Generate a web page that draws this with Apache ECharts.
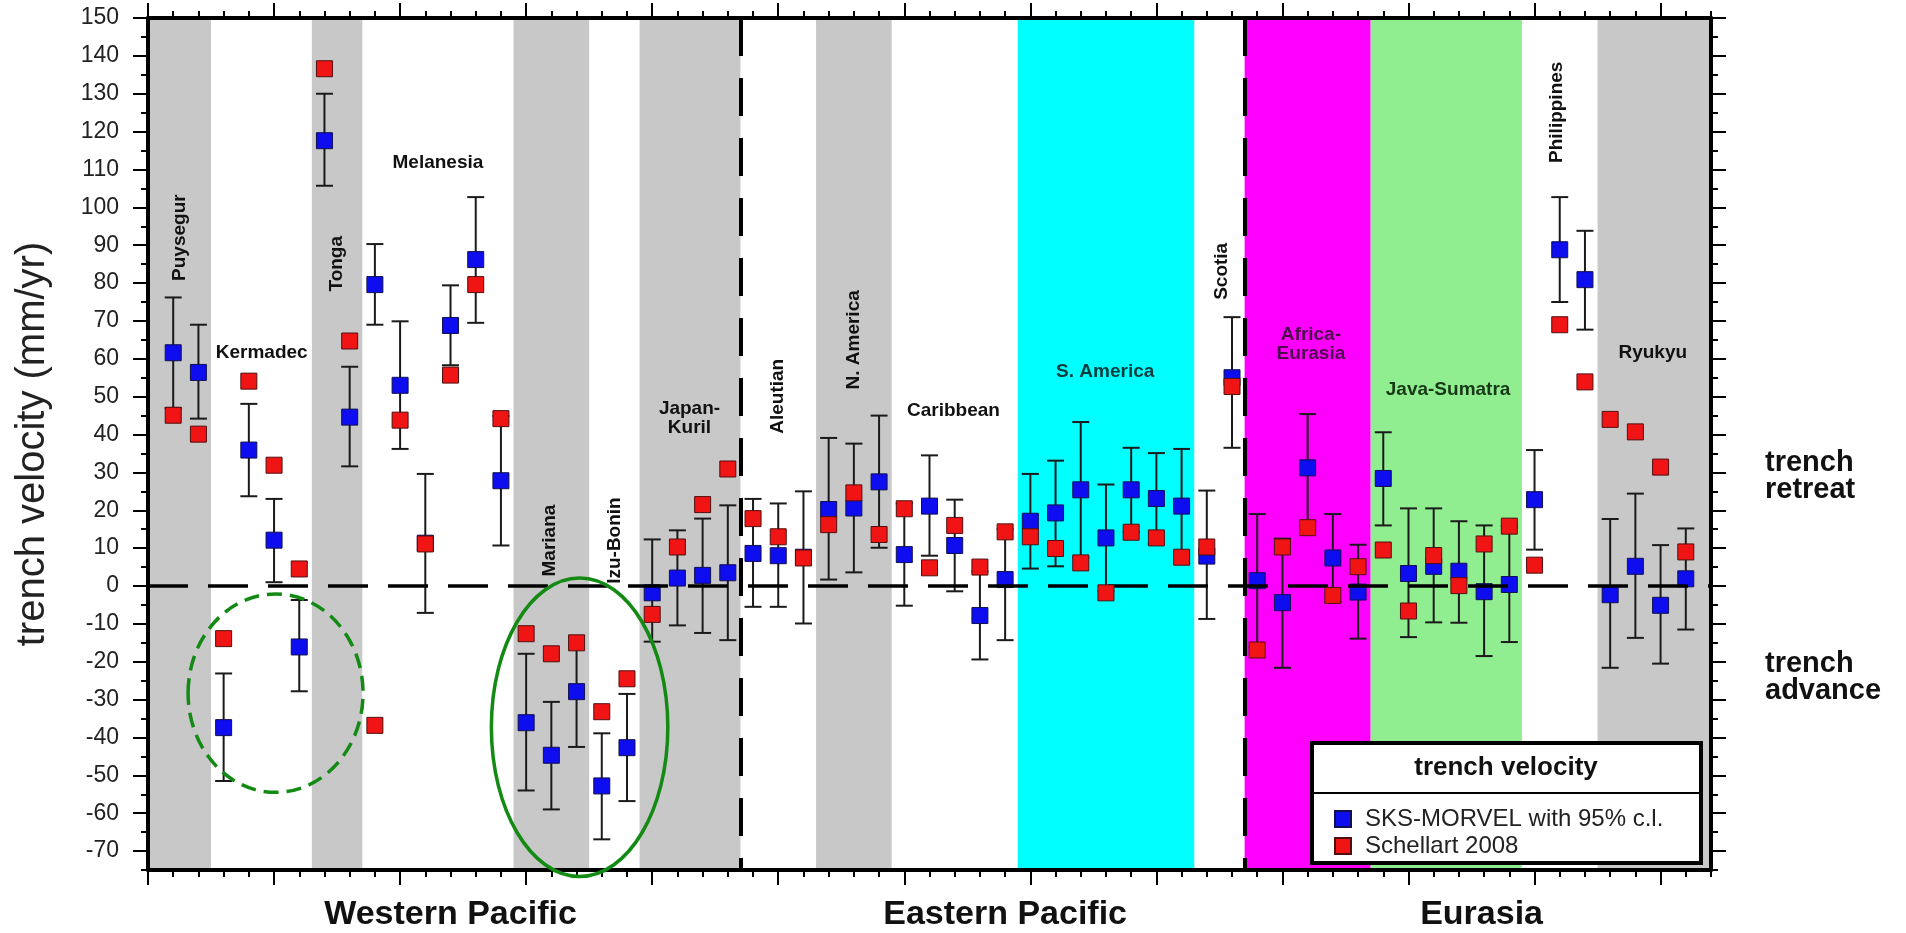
<!DOCTYPE html>
<html>
<head>
<meta charset="utf-8">
<title>Trench velocity</title>
<script src="https://cdn.jsdelivr.net/npm/echarts@6/dist/echarts.min.js"></script>
<style>
  html, body { margin: 0; padding: 0; background: #ffffff; }
  #chart { width: 1906px; height: 933px; }
</style>
</head>
<body>
<div id="chart"></div>
<script>
// ---- data: one entry per subduction-zone segment (position along the x axis) ----
const trenchIndex = [1, 2, 3, 4, 5, 6, 7, 8, 9, 10, 11, 12, 13, 14, 15, 16, 17, 18, 19, 20,
  21, 22, 23, 24, 25, 26, 27, 28, 29, 30, 31, 32, 33, 34, 35, 36, 37, 38, 39, 40,
  41, 42, 43, 44, 45, 46, 47, 48, 49, 50, 51, 52, 53, 54, 55, 56, 57, 58, 59, 60, 61];

// SKS-MORVEL trench velocity (mm/yr)
const morvelVelocity = [61.6, 56.4, -37.4, 35.9, 12.1, -16.1, 117.6, 44.6, 79.6, 53.0,
  11.3, 68.8, 86.2, 27.8, -36.1, -44.7, -27.9, -52.8, -42.7, -1.8,
  2.1, 2.8, 3.5, 8.6, 8.0, 7.6, 20.2, 20.6, 27.5, 8.3,
  21.1, 10.7, -7.8, 1.7, 17.1, 19.3, 25.4, 12.7, 25.4, 23.1,
  21.1, 7.9, 55.0, 1.4, -4.4, 31.2, 7.4, -1.6, 28.4, 3.3,
  5.2, 3.9, -1.5, 0.4, 22.8, 88.8, 80.9, -2.3, 5.2, -5.1, 1.9];

// upper / lower bounds of the 95% confidence interval
const morvelUpper = [76.2, 69.0, -23.1, 48.1, 23.0, -3.7, 130.0, 57.9, 90.3, 69.9,
  29.6, 79.4, 102.7, 44.9, -17.9, -30.6, -13.3, -38.9, -28.5, 12.3,
  14.7, 17.8, 21.3, 23.0, 21.8, 25.0, 39.1, 37.6, 45.0, 21.8,
  34.5, 22.8, 3.8, 15.0, 29.6, 33.1, 43.3, 26.8, 36.5, 35.1,
  36.2, 25.2, 71.0, 19.0, 12.5, 45.4, 19.0, 10.9, 40.6, 20.5,
  20.5, 17.1, 16.0, 15.8, 35.9, 102.7, 93.8, 17.7, 24.4, 10.8, 15.2];

const morvelLower = [47.0, 44.2, -51.5, 23.7, 1.0, -27.8, 105.7, 31.6, 69.0, 36.2,
  -7.1, 58.3, 69.5, 10.7, -54.0, -59.0, -42.5, -66.9, -56.8, -14.7,
  -10.4, -12.4, -14.3, -5.5, -5.5, -9.9, 1.7, 3.6, 10.1, -5.2,
  8.0, -1.4, -19.4, -14.3, 4.6, 5.2, 7.5, -1.4, 14.3, 11.1,
  6.0, -8.7, 36.5, -16.2, -21.6, 17.0, -4.2, -13.9, 16.0, -13.5,
  -9.6, -9.7, -18.5, -14.8, 9.6, 75.0, 67.7, -21.6, -13.7, -20.5, -11.5];

// Schellart (2008) trench velocity (mm/yr)
const schellartVelocity = [45.1, 40.1, -13.9, 54.1, 31.9, 4.5, 136.6, 64.7, -36.8, 43.8,
  11.1, 55.7, 79.6, 44.2, -12.6, -17.9, -15.0, -33.2, -24.5, -7.5,
  10.3, 21.5, 30.9, 17.8, 13.0, 7.4, 16.2, 24.6, 13.6, 20.4,
  4.8, 16.0, 5.0, 14.3, 13.0, 9.9, 6.1, -1.8, 14.2, 12.7,
  7.6, 10.3, 52.7, -16.9, 10.3, 15.4, -2.5, 5.1, 9.5, -6.6,
  8.05, 0.1, 11.1, 15.8, 5.5, 69.0, 53.9, 44.0, 40.7, 31.4, 9.0];

// y axis tick labels and intermediate ticks
const velocityTicks = [-70, -60, -50, -40, -30, -20, -10, 0, 10, 20, 30, 40, 50, 60, 70,
  80, 90, 100, 110, 120, 130, 140, 150];
const velocityMinorTicks = [-75, -65, -55, -45, -35, -25, -15, -5, 5, 15, 25, 35, 45, 55,
  65, 75, 85, 95, 105, 115, 125, 135, 145];
const segmentMajorTicks = [0, 5, 10, 15, 20, 25, 30, 35, 40, 45, 50, 55, 60];

// shaded regions along the trench index
const bandStart = [0, 6.5, 14.5, 19.5, 26.5, 34.5, 43.5, 48.5, 57.5];
const bandEnd   = [2.5, 8.5, 17.5, 23.5, 29.5, 41.5, 48.5, 54.5, 62];
const bandKind  = ['grey', 'grey', 'grey', 'grey', 'grey', 'cyan', 'magenta', 'green', 'grey'];

// region names and the plate groups below the axis
const regionNames = ['Puysegur', 'Kermadec', 'Tonga', 'Melanesia', 'Mariana', 'Izu-Bonin',
  'Japan-\nKuril', 'Aleutian', 'N. America', 'Caribbean', 'S. America', 'Scotia',
  'Africa-\nEurasia', 'Java-Sumatra', 'Philippines', 'Ryukyu'];
const groupNames = ['Western Pacific', 'Eastern Pacific', 'Eurasia'];

// ---- drawing ----
const FONT = '"Liberation Sans", Arial, Helvetica, sans-serif';
const bandColors = { grey: '#c8c8c8', cyan: '#00ffff', magenta: '#ff00ff', green: '#90ee90' };

const morvelPoints = trenchIndex.map((k, i) => [k, morvelVelocity[i]]);
const schellartPoints = trenchIndex.map((k, i) => [k, schellartVelocity[i]]);
const errorRows = trenchIndex.map((k, i) => [k, morvelUpper[i], morvelLower[i]]);

const chart = echarts.init(document.getElementById('chart'), null, { renderer: 'canvas' });

function xAxisDef(position, ticks, len, withLine) {
  const tick = { show: true, length: len, lineStyle: { color: '#000', width: 2 } };
  if (ticks) tick.customValues = ticks;
  return {
    type: 'value', position: position, min: 0, max: 62, z: 10,
    interval: ticks ? undefined : 1,
    axisLine: { show: withLine, onZero: false, lineStyle: { color: '#000', width: 4 } },
    axisTick: tick,
    axisLabel: { show: false },
    splitLine: { show: false }
  };
}

function yAxisDef(position, ticks, len, withLine, withLabels) {
  const ax = {
    type: 'value', position: position, min: -75, max: 150, z: 10,
    axisLine: { show: withLine, onZero: false, lineStyle: { color: '#000', width: 4 } },
    axisTick: { show: true, length: len, customValues: ticks, lineStyle: { color: '#000', width: 2 } },
    axisLabel: { show: false },
    splitLine: { show: false }
  };
  if (withLabels) {
    ax.axisLabel = { show: true, customValues: ticks, margin: 29, fontSize: 23,
      color: '#222', fontFamily: FONT };
    ax.name = 'trench velocity (mm/yr)';
    ax.nameLocation = 'middle';
    ax.nameRotate = 90;
    ax.nameGap = 95;
    ax.nameTextStyle = { fontSize: 40, color: '#222', fontFamily: FONT };
  }
  return ax;
}

const option = {
  animation: false,
  backgroundColor: '#ffffff',
  textStyle: { fontFamily: FONT },
  grid: { left: 148, top: 18, width: 1563, height: 852, outerBoundsMode: 'none' },
  xAxis: [
    xAxisDef('bottom', null, 7, true),
    xAxisDef('bottom', segmentMajorTicks, 15, false),
    xAxisDef('top', null, 7, true),
    xAxisDef('top', segmentMajorTicks, 15, false)
  ],
  yAxis: [
    yAxisDef('left', velocityTicks, 15, true, true),
    yAxisDef('left', velocityMinorTicks, 7, false, false),
    yAxisDef('right', velocityTicks, 15, true, false),
    yAxisDef('right', velocityMinorTicks, 7, false, false)
  ],
  legend: {
    orient: 'vertical', left: 1329, top: 802, z: 60,
    itemWidth: 16, itemHeight: 16, itemGap: 3, icon: 'rect',
    selectedMode: false,
    data: ['SKS-MORVEL with 95% c.l.', 'Schellart 2008'],
    textStyle: { fontSize: 24, color: '#222', fontFamily: FONT, lineHeight: 24, padding: [0, 0, 0, 9] }
  },
  series: [
    {
      type: 'scatter', data: [], silent: true, z: 1,
      markArea: {
        silent: true,
        data: bandStart.map((s, i) => [
          { xAxis: s, itemStyle: { color: bandColors[bandKind[i]], opacity: 1 } },
          { xAxis: bandEnd[i] }
        ])
      }
    },
    {
      type: 'scatter', data: [], silent: true, z: 2,
      markLine: {
        silent: true, symbol: 'none', label: { show: false },
        data: [
          [{ coord: [0, 0], lineStyle: { color: '#000', width: 3.5, type: [40, 20] } }, { coord: [62, 0] }],
          [{ coord: [23.5, 150], lineStyle: { color: '#000', width: 4, type: [38, 22] } }, { coord: [23.5, -75] }],
          [{ coord: [43.5, 150], lineStyle: { color: '#000', width: 4, type: [38, 22] } }, { coord: [43.5, -75] }]
        ]
      }
    },
    {
      type: 'custom', z: 3, silent: true,
      data: errorRows,
      encode: { x: 0, y: [1, 2] },
      renderItem: function (params, api) {
        const x = api.value(0);
        const hi = api.coord([x, api.value(1)]);
        const lo = api.coord([x, api.value(2)]);
        const w = 8.5;
        const style = { stroke: '#1a1a1a', lineWidth: 2 };
        return {
          type: 'group',
          children: [
            { type: 'line', shape: { x1: hi[0], y1: hi[1], x2: lo[0], y2: lo[1] }, style: style },
            { type: 'line', shape: { x1: hi[0] - w, y1: hi[1], x2: hi[0] + w, y2: hi[1] }, style: style },
            { type: 'line', shape: { x1: lo[0] - w, y1: lo[1], x2: lo[0] + w, y2: lo[1] }, style: style }
          ]
        };
      }
    },
    {
      name: 'SKS-MORVEL with 95% c.l.', type: 'scatter', z: 4,
      data: morvelPoints, symbol: 'rect', symbolSize: 16,
      itemStyle: { color: '#0d0def', borderColor: '#101050', borderWidth: 1, opacity: 1 }
    },
    {
      name: 'Schellart 2008', type: 'scatter', z: 5,
      data: schellartPoints, symbol: 'rect', symbolSize: 16,
      itemStyle: { color: '#f01414', borderColor: '#501010', borderWidth: 1, opacity: 1 }
    }
  ]
};

chart.setOption(option);

// ---- annotations placed in data space ----
const toPx = (pt) => chart.convertToPixel({ xAxisIndex: 0, yAxisIndex: 0 }, pt);

// [index position, velocity, vertical?, colour]
const regionAnchors = [
  [1.26, 92.0, true, '#111'], [4.51, 61.6, false, '#111'], [7.50, 85.1, true, '#111'],
  [11.5, 111.7, false, '#111'], [15.94, 12.0, true, '#111'], [18.52, 12.0, true, '#111'],
  [21.48, 44.2, false, '#111'], [25.0, 50.1, true, '#111'], [28.0, 65.0, true, '#111'],
  [31.95, 46.4, false, '#111'], [37.97, 56.5, false, '#0c3c3c'], [42.58, 83.1, true, '#111'],
  [46.13, 63.9, false, '#4b0a4b'], [51.57, 51.8, false, '#183818'], [55.9, 125.1, true, '#111'],
  [59.69, 61.6, false, '#111']
];

const graphics = [];

regionNames.forEach((name, i) => {
  const a = regionAnchors[i];
  const p = toPx([a[0], a[1]]);
  graphics.push({
    type: 'text', x: p[0], y: p[1], rotation: a[2] ? Math.PI / 2 : 0, z: 20, silent: true,
    style: { text: name, fill: a[3], font: 'bold 19px ' + FONT, align: 'center',
      verticalAlign: 'middle', lineHeight: 19 }
  });
});

// plate groups under the axis
[12, 34, 52.9].forEach((k, i) => {
  const p = toPx([k, -75]);
  graphics.push({
    type: 'text', x: p[0], y: p[1] + 45, z: 20, silent: true,
    style: { text: groupNames[i], fill: '#111', font: 'bold 34px ' + FONT,
      align: 'center', verticalAlign: 'middle' }
  });
});

// retreat / advance notes beside the right axis
[['trench\nretreat', 28.9], ['trench\nadvance', -24.1]].forEach((t) => {
  const p = toPx([62, t[1]]);
  graphics.push({
    type: 'text', x: p[0] + 54, y: p[1], z: 20, silent: true,
    style: { text: t[0], fill: '#111', font: 'bold 29px ' + FONT, align: 'left',
      verticalAlign: 'middle', lineHeight: 27 }
  });
});

// highlighted groups of advancing trenches
function ellipseAround(cx, cy, rx, ry, dashed) {
  const c = toPx([cx, cy]);
  const e = toPx([cx + rx, cy + ry]);
  return {
    type: 'ellipse', z: 21, silent: true,
    shape: { cx: c[0], cy: c[1], rx: Math.abs(e[0] - c[0]), ry: Math.abs(c[1] - e[1]) },
    style: { fill: null, stroke: '#138a13', lineWidth: 3.5, lineDash: dashed ? [15, 8] : null }
  };
}
graphics.push(ellipseAround(5.06, -28.3, 3.47, 26.2, true));
graphics.push(ellipseAround(17.12, -37.3, 3.50, 39.4, false));

// legend frame and title
graphics.push({
  type: 'rect', z: 50, silent: true,
  shape: { x: 1312, y: 743, width: 389, height: 120 },
  style: { fill: '#ffffff', stroke: '#000', lineWidth: 4 }
});
graphics.push({
  type: 'line', z: 51, silent: true,
  shape: { x1: 1312, y1: 793, x2: 1701, y2: 793 },
  style: { stroke: '#000', lineWidth: 2 }
});
graphics.push({
  type: 'text', x: 1506, y: 768, z: 51, silent: true,
  style: { text: 'trench velocity', fill: '#111', font: 'bold 26px ' + FONT,
    align: 'center', verticalAlign: 'middle' }
});

chart.setOption({ graphic: graphics });
</script>
</body>
</html>
